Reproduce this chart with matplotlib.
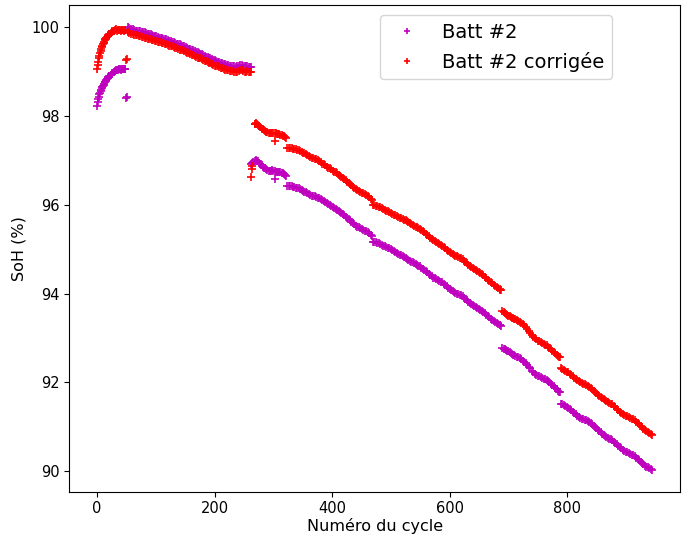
import matplotlib
matplotlib.use("Agg")
import matplotlib.pyplot as plt

# --- data (cycle number, SoH in %) ---
# main readings, block by block
cycles_batt = [
    0, 1, 2, 3, 4, 5, 6, 7, 8, 10, 12, 14, 16, 18, 20, 23, 26, 29, 32, 35, 38, 41, 44, 47,
    49, 51,
    53, 58, 63, 68, 73, 78, 83, 88, 93, 98, 103, 108, 113, 118, 123, 128, 133, 138, 143,
    148, 153, 158, 163, 168, 173, 178, 183, 188, 193, 198, 203, 208, 213, 218, 223, 228,
    233, 238, 243, 248, 253, 258, 262,
    262, 266, 270, 274, 278, 282, 286, 290, 294, 298, 302, 306, 310, 314, 318, 321, 303,
    324, 328, 333, 338, 343, 348, 353, 358, 363, 368, 373, 378, 383, 388, 393, 398, 403,
    408, 413, 418, 423, 428, 433, 438, 443, 448, 453, 458, 463, 468,
    470, 475, 480, 485, 490, 495, 500, 505, 510, 515, 520, 525, 530, 535, 540, 545, 550,
    555, 560, 565, 570, 575, 580, 585, 590, 595, 600, 605, 610, 615, 620, 625, 630, 635,
    640, 645, 650, 655, 660, 665, 670, 675, 680, 685, 688,
    690, 694, 698, 702, 706, 710, 715, 720, 725, 730, 735, 740, 745, 750, 755, 760, 765,
    770, 775, 780, 785, 788,
    790, 795, 800, 805, 810, 815, 820, 825, 830, 835, 840, 845, 850, 855, 860, 865, 870,
    875, 880, 885, 890, 895, 900, 905, 910, 915, 920, 925, 930, 935, 940, 945,
]
soh_batt = [
    98.23, 98.31, 98.38, 98.44, 98.49, 98.53, 98.57, 98.60, 98.63, 98.68, 98.73, 98.78,
    98.82, 98.86, 98.89, 98.93, 98.97, 99.00, 99.03, 99.05, 99.06, 99.06, 99.07, 99.07,
    98.40, 98.42,
    100.00, 99.97, 99.95, 99.93, 99.91, 99.89, 99.87, 99.85, 99.83, 99.81, 99.79, 99.77,
    99.75, 99.73, 99.70, 99.68, 99.65, 99.63, 99.60, 99.57, 99.54, 99.51, 99.48, 99.45,
    99.42, 99.39, 99.36, 99.33, 99.30, 99.27, 99.24, 99.21, 99.19, 99.17, 99.15, 99.13,
    99.12, 99.12, 99.16, 99.13, 99.12, 99.11, 99.11,
    96.93, 96.97, 97.00, 96.98, 96.92, 96.86, 96.82, 96.78, 96.76, 96.78, 96.76, 96.74,
    96.74, 96.72, 96.70, 96.66, 96.59,
    96.42, 96.43, 96.41, 96.39, 96.37, 96.33, 96.30, 96.27, 96.23, 96.20, 96.18, 96.15,
    96.11, 96.07, 96.02, 95.97, 95.92, 95.88, 95.84, 95.79, 95.73, 95.68, 95.62, 95.56,
    95.51, 95.47, 95.44, 95.40, 95.36, 95.29,
    95.17, 95.16, 95.13, 95.10, 95.07, 95.03, 95.00, 94.96, 94.92, 94.88, 94.84, 94.80,
    94.76, 94.72, 94.69, 94.65, 94.61, 94.56, 94.51, 94.45, 94.39, 94.34, 94.31, 94.27,
    94.22, 94.16, 94.10, 94.06, 94.02, 93.99, 93.96, 93.91, 93.85, 93.79, 93.74, 93.70,
    93.65, 93.61, 93.55, 93.49, 93.43, 93.38, 93.33, 93.29, 93.26,
    92.77, 92.75, 92.71, 92.68, 92.64, 92.61, 92.58, 92.54, 92.49, 92.43, 92.35, 92.26,
    92.19, 92.14, 92.11, 92.08, 92.05, 92.00, 91.94, 91.87, 91.80, 91.77,
    91.52, 91.49, 91.45, 91.40, 91.34, 91.28, 91.22, 91.18, 91.15, 91.12, 91.08, 91.02,
    90.96, 90.90, 90.84, 90.79, 90.75, 90.71, 90.66, 90.60, 90.54, 90.48, 90.43, 90.40,
    90.37, 90.33, 90.27, 90.21, 90.15, 90.09, 90.06, 90.03,
]
# extra readings in between the main ones (the band is dense)
cycles_batt_mid = [
    9, 11, 13, 15, 17, 19, 21, 25, 28, 31, 34, 37, 40, 43, 46, 48,
    55, 61, 66, 71, 76, 81, 86, 91, 96, 101, 106, 111, 116, 121, 126, 131, 136, 141, 146,
    151, 156, 161, 166, 171, 176, 181, 186, 191, 196, 201, 206, 211, 216, 221, 226, 231,
    236, 241, 246, 251, 256, 260,
    264, 268, 272, 276, 280, 284, 288, 292, 296, 300, 304, 308, 312, 316, 320,
    326, 331, 336, 341, 346, 351, 356, 361, 366, 371, 376, 381, 386, 391, 396, 401, 406,
    411, 416, 421, 426, 431, 436, 441, 446, 451, 456, 461, 466,
    472, 477, 482, 487, 492, 497, 502, 507, 512, 517, 522, 527, 532, 537, 542, 547, 552,
    557, 562, 567, 572, 577, 582, 587, 592, 597, 602, 607, 612, 617, 622, 627, 632, 637,
    642, 647, 652, 657, 662, 667, 672, 677, 682, 686,
    692, 696, 700, 704, 708, 712, 717, 722, 727, 732, 737, 742, 747, 752, 757, 762, 767,
    772, 777, 782, 786,
    792, 797, 802, 807, 812, 817, 822, 827, 832, 837, 842, 847, 852, 857, 862, 867, 872,
    877, 882, 887, 892, 897, 902, 907, 912, 917, 922, 927, 932, 937, 942,
]
soh_batt_mid = [
    98.66, 98.71, 98.76, 98.80, 98.84, 98.88, 98.91, 98.96, 98.99, 99.02, 99.04, 99.06,
    99.05, 99.07, 99.06, 99.07,
    99.98, 99.97, 99.93, 99.93, 99.89, 99.89, 99.86, 99.85, 99.81, 99.81, 99.77, 99.77,
    99.73, 99.72, 99.69, 99.67, 99.63, 99.62, 99.58, 99.56, 99.52, 99.50, 99.46, 99.44,
    99.40, 99.38, 99.34, 99.32, 99.28, 99.26, 99.22, 99.20, 99.18, 99.16, 99.14, 99.13,
    99.11, 99.14, 99.15, 99.12, 99.12, 99.10,
    96.95, 96.99, 96.99, 96.95, 96.89, 96.84, 96.80, 96.77, 96.77, 96.77, 96.75, 96.73,
    96.73, 96.71, 96.68,
    96.43, 96.42, 96.40, 96.38, 96.35, 96.31, 96.28, 96.25, 96.21, 96.19, 96.16, 96.13,
    96.09, 96.04, 95.99, 95.94, 95.90, 95.86, 95.81, 95.76, 95.70, 95.65, 95.59, 95.53,
    95.49, 95.45, 95.42, 95.38, 95.32,
    95.16, 95.15, 95.12, 95.08, 95.05, 95.02, 94.98, 94.94, 94.90, 94.86, 94.82, 94.78,
    94.74, 94.71, 94.67, 94.63, 94.58, 94.53, 94.48, 94.42, 94.36, 94.32, 94.29, 94.25,
    94.19, 94.13, 94.08, 94.04, 94.00, 93.97, 93.94, 93.88, 93.82, 93.77, 93.72, 93.67,
    93.63, 93.58, 93.52, 93.46, 93.40, 93.36, 93.31, 93.28,
    92.76, 92.73, 92.70, 92.66, 92.62, 92.60, 92.56, 92.52, 92.46, 92.39, 92.31, 92.23,
    92.17, 92.13, 92.10, 92.07, 92.03, 91.97, 91.91, 91.84, 91.79,
    91.51, 91.47, 91.43, 91.37, 91.31, 91.25, 91.20, 91.17, 91.14, 91.10, 91.05, 90.99,
    90.93, 90.87, 90.82, 90.77, 90.73, 90.69, 90.63, 90.57, 90.51, 90.46, 90.42, 90.39,
    90.35, 90.30, 90.24, 90.18, 90.12, 90.08, 90.05,
]

cycles_corr = [
    0, 1, 2, 3, 4, 5, 6, 7, 8, 10, 12, 14, 16, 18, 20, 23, 26, 29, 32, 35, 38, 41, 44, 47,
    49, 51,
    53, 58, 63, 68, 73, 78, 83, 88, 93, 98, 103, 108, 113, 118, 123, 128, 133, 138, 143,
    148, 153, 158, 163, 168, 173, 178, 183, 188, 193, 198, 203, 208, 213, 218, 223, 228,
    233, 238, 243, 248, 253, 258, 262,
    262, 263, 264,
    268, 271, 274, 278, 282, 286, 290, 294, 298, 302, 306, 310, 314, 318, 321, 303,
    324, 328, 333, 338, 343, 348, 353, 358, 363, 368, 373, 378, 383, 388, 393, 398, 403,
    408, 413, 418, 423, 428, 433, 438, 443, 448, 453, 458, 463, 468,
    470, 475, 480, 485, 490, 495, 500, 505, 510, 515, 520, 525, 530, 535, 540, 545, 550,
    555, 560, 565, 570, 575, 580, 585, 590, 595, 600, 605, 610, 615, 620, 625, 630, 635,
    640, 645, 650, 655, 660, 665, 670, 675, 680, 685, 688,
    690, 694, 698, 702, 706, 710, 715, 720, 725, 730, 735, 740, 745, 750, 755, 760, 765,
    770, 775, 780, 785, 788,
    790, 795, 800, 805, 810, 815, 820, 825, 830, 835, 840, 845, 850, 855, 860, 865, 870,
    875, 880, 885, 890, 895, 900, 905, 910, 915, 920, 925, 930, 935, 940, 945,
]
soh_corr = [
    99.07, 99.15, 99.23, 99.30, 99.36, 99.42, 99.47, 99.52, 99.56, 99.62, 99.68, 99.73,
    99.77, 99.81, 99.84, 99.88, 99.91, 99.93, 99.97, 99.94, 99.95, 99.94, 99.95, 99.94,
    99.27, 99.29,
    99.90, 99.86, 99.84, 99.82, 99.80, 99.78, 99.76, 99.74, 99.72, 99.70, 99.68, 99.66,
    99.64, 99.62, 99.59, 99.57, 99.54, 99.52, 99.49, 99.46, 99.43, 99.40, 99.37, 99.34,
    99.31, 99.28, 99.25, 99.22, 99.19, 99.16, 99.13, 99.10, 99.08, 99.05, 99.03, 99.01,
    99.00, 99.00, 99.04, 99.01, 99.00, 98.99, 99.00,
    96.63, 96.80, 96.87,
    97.82, 97.84, 97.80, 97.75, 97.70, 97.66, 97.64, 97.62, 97.63, 97.62, 97.60, 97.59,
    97.57, 97.55, 97.51, 97.44,
    97.28, 97.29, 97.27, 97.25, 97.23, 97.19, 97.16, 97.12, 97.08, 97.05, 97.03, 96.98,
    96.93, 96.89, 96.84, 96.80, 96.75, 96.71, 96.66, 96.61, 96.55, 96.50, 96.44, 96.38,
    96.33, 96.29, 96.26, 96.22, 96.17, 96.10,
    95.99, 95.98, 95.95, 95.92, 95.89, 95.85, 95.82, 95.78, 95.75, 95.71, 95.68, 95.65,
    95.61, 95.57, 95.53, 95.49, 95.45, 95.40, 95.35, 95.29, 95.23, 95.18, 95.14, 95.10,
    95.05, 94.99, 94.94, 94.89, 94.85, 94.82, 94.79, 94.74, 94.68, 94.62, 94.57, 94.53,
    94.48, 94.44, 94.38, 94.31, 94.25, 94.20, 94.15, 94.10, 94.07,
    93.60, 93.56, 93.52, 93.49, 93.45, 93.43, 93.41, 93.36, 93.31, 93.24, 93.16, 93.07,
    92.99, 92.94, 92.91, 92.87, 92.83, 92.77, 92.71, 92.65, 92.59, 92.56,
    92.32, 92.28, 92.24, 92.19, 92.13, 92.07, 92.02, 91.98, 91.96, 91.92, 91.87, 91.81,
    91.75, 91.69, 91.64, 91.59, 91.56, 91.52, 91.47, 91.40, 91.34, 91.28, 91.24, 91.21,
    91.18, 91.14, 91.08, 91.02, 90.95, 90.89, 90.85, 90.82,
]
cycles_corr_mid = [
    9, 11, 13, 15, 17, 19, 21, 25, 28, 31, 34, 37, 40, 43, 46, 48,
    55, 61, 66, 71, 76, 81, 86, 91, 96, 101, 106, 111, 116, 121, 126, 131, 136, 141, 146,
    151, 156, 161, 166, 171, 176, 181, 186, 191, 196, 201, 206, 211, 216, 221, 226, 231,
    236, 241, 246, 251, 256, 260,
    269, 273, 276, 280, 284, 288, 292, 296, 300, 304, 308, 312, 316, 320,
    326, 331, 336, 341, 346, 351, 356, 361, 366, 371, 376, 381, 386, 391, 396, 401, 406,
    411, 416, 421, 426, 431, 436, 441, 446, 451, 456, 461, 466,
    472, 477, 482, 487, 492, 497, 502, 507, 512, 517, 522, 527, 532, 537, 542, 547, 552,
    557, 562, 567, 572, 577, 582, 587, 592, 597, 602, 607, 612, 617, 622, 627, 632, 637,
    642, 647, 652, 657, 662, 667, 672, 677, 682, 686,
    692, 696, 700, 704, 708, 712, 717, 722, 727, 732, 737, 742, 747, 752, 757, 762, 767,
    772, 777, 782, 786,
    792, 797, 802, 807, 812, 817, 822, 827, 832, 837, 842, 847, 852, 857, 862, 867, 872,
    877, 882, 887, 892, 897, 902, 907, 912, 917, 922, 927, 932, 937, 942,
]
soh_corr_mid = [
    99.59, 99.65, 99.71, 99.75, 99.79, 99.83, 99.86, 99.90, 99.92, 99.95, 99.93, 99.95,
    99.93, 99.94, 99.93, 99.95,
    99.88, 99.85, 99.82, 99.81, 99.79, 99.77, 99.75, 99.73, 99.71, 99.69, 99.67, 99.65,
    99.63, 99.60, 99.58, 99.56, 99.53, 99.50, 99.48, 99.44, 99.42, 99.38, 99.36, 99.32,
    99.30, 99.26, 99.24, 99.20, 99.18, 99.14, 99.12, 99.09, 99.06, 99.04, 99.02, 99.01,
    98.99, 99.02, 99.03, 99.00, 99.01, 98.99,
    97.83, 97.82, 97.78, 97.72, 97.68, 97.65, 97.63, 97.62, 97.63, 97.61, 97.59, 97.58,
    97.56, 97.53,
    97.29, 97.28, 97.26, 97.24, 97.21, 97.17, 97.14, 97.10, 97.06, 97.04, 97.00, 96.96,
    96.91, 96.86, 96.82, 96.77, 96.73, 96.68, 96.63, 96.58, 96.52, 96.47, 96.41, 96.35,
    96.31, 96.27, 96.24, 96.19, 96.13,
    95.99, 95.97, 95.94, 95.90, 95.87, 95.84, 95.80, 95.76, 95.73, 95.70, 95.66, 95.63,
    95.59, 95.55, 95.51, 95.47, 95.43, 95.38, 95.32, 95.26, 95.21, 95.16, 95.12, 95.08,
    95.02, 94.97, 94.92, 94.87, 94.84, 94.80, 94.77, 94.71, 94.65, 94.60, 94.55, 94.51,
    94.46, 94.41, 94.35, 94.28, 94.23, 94.18, 94.13, 94.09,
    93.58, 93.54, 93.50, 93.47, 93.44, 93.42, 93.39, 93.34, 93.28, 93.20, 93.12, 93.03,
    92.97, 92.93, 92.89, 92.85, 92.80, 92.74, 92.68, 92.62, 92.58,
    92.30, 92.26, 92.22, 92.16, 92.10, 92.05, 92.00, 91.97, 91.94, 91.90, 91.84, 91.78,
    91.72, 91.67, 91.62, 91.58, 91.54, 91.50, 91.44, 91.37, 91.31, 91.26, 91.23, 91.20,
    91.16, 91.11, 91.05, 90.99, 90.92, 90.87, 90.83,
]

fig = plt.figure(figsize=(6.83, 5.36), dpi=100)
ax = fig.add_axes([0.1015, 0.0826, 0.8942, 0.9075])

ax.plot(cycles_batt + cycles_batt_mid, soh_batt + soh_batt_mid, "+", color="m",
        markersize=6, markeredgewidth=1.2, label="Batt #2")
ax.plot(cycles_corr + cycles_corr_mid, soh_corr + soh_corr_mid, "+", color="r",
        markersize=6, markeredgewidth=1.2, label="Batt #2 corrigée")

ax.set_xticks([0, 200, 400, 600, 800])
ax.set_yticks([90, 92, 94, 96, 98, 100])
ax.tick_params(labelsize=10.5)
ax.set_xlabel("Numéro du cycle", fontsize=11.5, labelpad=1)
ax.set_ylabel("SoH (%)", fontsize=11.5)

ax.legend(loc="upper right", bbox_to_anchor=(0.889, 0.98), borderaxespad=0,
          fontsize=14, markerscale=0.7)

fig.savefig("out.png", dpi=100)
